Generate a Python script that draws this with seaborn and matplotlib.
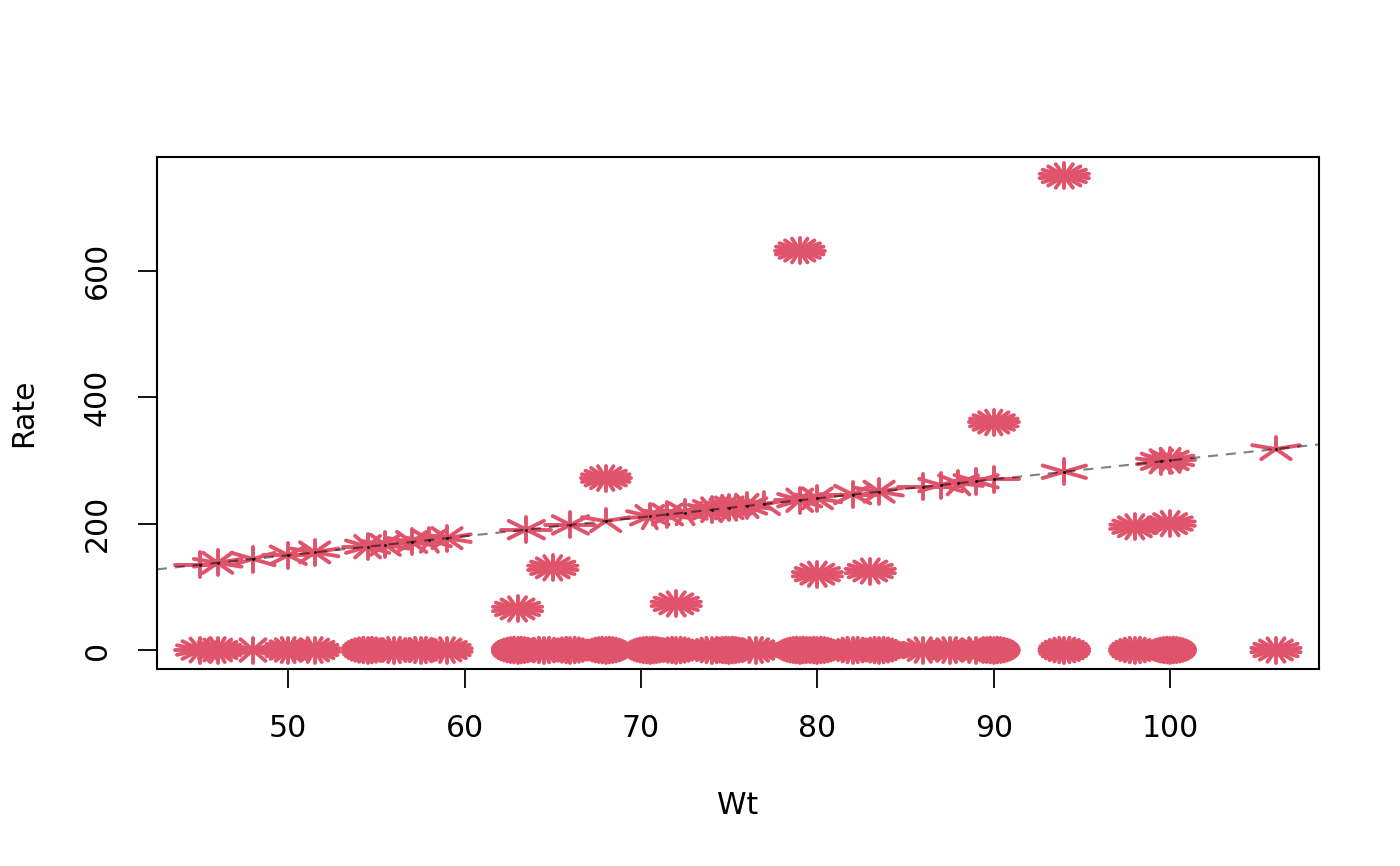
import numpy as np
import pandas as pd
import matplotlib
matplotlib.use("Agg")
import matplotlib.pyplot as plt
import seaborn as sns
from matplotlib.collections import LineCollection

# ---- data ----
# sunflowers lying on the dose line Rate = 3 * Wt
line_wt = [45, 46, 48, 50, 51.5, 54.5, 55.5, 57, 58, 59,
           63.5, 66, 68, 70.5, 71.5, 72.5, 74, 75, 76, 77,
           79, 80, 82, 83.5, 86, 87, 88, 89, 90, 94, 99.5, 100, 106]
line_n = [4, 10, 6, 8, 10, 12, 10, 10, 9, 10,
          8, 8, 5, 11, 10, 9, 16, 22, 14, 5,
          12, 10, 8, 10, 4, 6, 7, 6, 4, 6, 14, 16, 5]
# sunflowers at Rate = 0
zero_wt = [45, 46, 48, 50, 51.5, 54.5, 56, 57.5, 59,
           63, 64.5, 66, 68, 70.5, 72, 74, 75, 76.5,
           79, 80, 82, 83.5, 86, 87.5, 89, 90, 94, 98, 100, 106]
zero_n = [16, 22, 12, 24, 22, 36, 26, 28, 22,
          44, 30, 36, 44, 48, 36, 30, 48, 24,
          48, 44, 30, 34, 20, 24, 22, 44, 30, 30, 48, 18]
# other sunflowers
extra_wt = [63, 65, 68, 72, 79, 80, 83, 90, 94, 98, 100]
extra_rate = [65, 130, 272, 73, 632, 120, 125, 360, 750, 195, 200]
extra_n = [18, 18, 20, 18, 20, 18, 18, 20, 18, 18, 18]
slope = 3.0

x_ticks = [50, 60, 70, 80, 90, 100]
y_ticks = [0, 200, 400, 600]

wt = line_wt + zero_wt + extra_wt
rate = [slope * w for w in line_wt] + [0] * len(zero_wt) + extra_rate
cnt = line_n + zero_n + extra_n
df = pd.DataFrame({"Wt": wt, "Rate": rate, "n": cnt})
df_line = pd.DataFrame({"Wt": line_wt, "Rate": [slope * w for w in line_wt]})

sns.set_theme(style="white")
plt.rcParams["font.family"] = ["DejaVu Sans"]

W, H = 1400, 866
fig = plt.figure(figsize=(W / 100, H / 100), dpi=100)
L, R, T, B = 157, 1319, 157, 669
ax = fig.add_axes([L / W, 1 - B / H, (R - L) / W, (B - T) / H])

xr = max(wt) - min(wt)
yr = max(rate) - min(rate)
xmin, xmax = min(wt) - 0.04 * xr, max(wt) + 0.04 * xr
ymin, ymax = min(rate) - 0.04 * yr, max(rate) + 0.04 * yr

# petal radii in pixels -> data units
sx = (R - L) / (xmax - xmin)
sy = (B - T) / (ymax - ymin)
rx, ry = 25 / sx, 12.5 / sy

segs = []
for x0, y0, n in zip(df["Wt"], df["Rate"], df["n"]):
    k = np.arange(1, n + 1)
    deg = 2 * np.pi * k / n
    for d in deg:
        segs.append([(x0, y0), (x0 + np.sin(d) * rx, y0 + np.cos(d) * ry)])
lc = LineCollection(segs, colors="#DF536B", linewidths=2.8, capstyle="round", zorder=2)
ax.add_collection(lc)

sns.scatterplot(data=df_line, x="Wt", y="Rate", ax=ax, s=4, color="black",
                linewidth=0, zorder=3)

ax.axline((0, 0), slope=slope, color=(0, 0, 0, 0.5), lw=1.5,
          dashes=(4.8, 3.8), zorder=4)

ax.set_xlim(xmin, xmax)
ax.set_ylim(ymin, ymax)
ax.set_xticks(x_ticks)
ax.set_yticks(y_ticks)
ax.set_xticklabels([str(v) for v in x_ticks])
ax.set_yticklabels([str(v) for v in y_ticks])
ax.tick_params(axis="both", which="major", bottom=True, left=True, direction="out",
               length=13.7, width=1.3, color="black", labelsize=21.5, pad=19,
               labelcolor="black")
ax.tick_params(axis="y", labelrotation=90)
for lab in ax.get_yticklabels():
    lab.set_va("center")
for sp in ax.spines.values():
    sp.set_visible(True)
    sp.set_color("black")
    sp.set_linewidth(1.5)

ax.set_xlabel("Wt", fontsize=21.5, color="black")
ax.set_ylabel("Rate", fontsize=21.5, color="black")
ax.xaxis.set_label_coords((738 - L) / (R - L), (B - 805) / (B - T))
ax.xaxis.label.set_va("center")
ax.yaxis.set_label_coords((23.5 - L) / (R - L), 0.5)
ax.yaxis.label.set_va("center")

fig.savefig("out.png", dpi=100, facecolor="white")
